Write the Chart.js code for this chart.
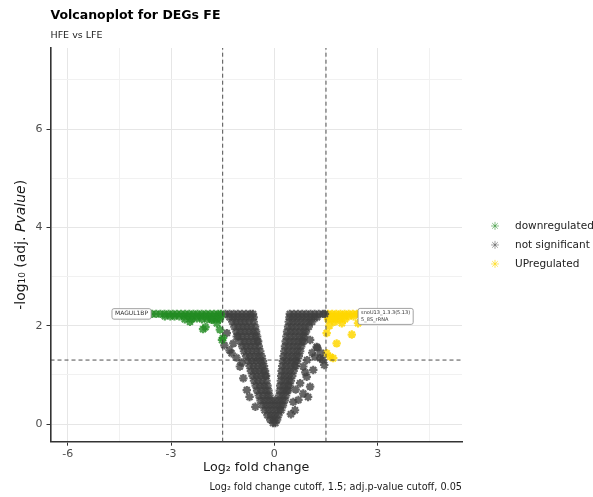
<!DOCTYPE html>
<html><head><meta charset="utf-8">
<script src="https://cdn.jsdelivr.net/npm/chart.js@4"></script>
<style>html,body{margin:0;padding:0;background:#fff}</style>
</head><body>
<canvas id="c" width="593" height="497"></canvas>
<script>
// ---------- text ----------
const chartTitle = 'Volcanoplot for DEGs FE';
const chartSubtitle = 'HFE vs LFE';
const xTitle = 'Log\u2082 fold change';
const yTitleParts = [['-log\u2081\u2080 (adj. ', 'normal'], ['Pvalue', 'italic'], [')', 'normal']];
const captionText = 'Log\u2082 fold change cutoff, 1.5; adj.p-value cutoff, 0.05';
const seriesNames = ['downregulated', 'not significant', 'UPregulated'];

// ---------- axes ----------
const xMin = -6.5, xMax = 5.45;
const yMin = -0.36, yMax = 7.65;
const xTickValues = [-6, -4.5, -3, -1.5, 0, 1.5, 3, 4.5];
const xTickLabels = ['-6', '', '-3', '', '0', '', '3', ''];
const yTickValues = [0, 1, 2, 3, 4, 5, 6, 7];
const yTickLabels = ['0', '', '2', '', '4', '', '6', ''];

// ---------- cutoffs ----------
const fcCutoff = 1.5;
const pCutoff = 0.05;

// ---------- data (rows: [-log10 adj.p, [log2FC values]]) ----------
const downRows = [
  [2.24, [-3.55,-3.43,-3.31,-3.19,-3.07,-2.95,-2.83,-2.71,-2.59,-2.47,-2.35,-2.23,-2.11,-1.99,-1.87,-1.75,-1.63,-1.55]],
  [2.19, [-3.18,-3.02,-2.90,-2.76,-2.62,-2.50,-2.38,-2.26,-2.14,-2.02,-1.90,-1.78,-1.66,-1.56]],
  [2.13, [-2.60,-2.40,-2.10,-1.95,-1.82,-1.68,-1.58]]
];
const downExtra = [[-2.45,2.08],[-2.25,2.15],[-2.07,1.93],[-1.67,2.05],[-1.82,2.12],[-1.49,1.75],[-2.0,1.97],[-1.52,1.71],[-1.58,1.92]];

const upRows = [
  [2.24, [1.56,1.68,1.80,1.92,2.04,2.16,2.28,2.40,2.48]],
  [2.19, [1.56,1.68,1.80,1.92,2.04,2.16,2.30]],
  [2.13, [1.56,1.66,1.78,1.90,2.05]]
];
const upExtra = [[1.96,2.05],[2.43,2.05],[2.25,1.82],[1.81,1.64],[1.52,1.85],[1.62,1.37],[1.52,1.44],[1.71,1.34],[1.60,2.00],[1.75,2.08]];

const nsRows = [
  [2.24, [-1.42,-1.30,-1.18,-1.06,-0.94,-0.82,-0.70,-0.62, 0.45,0.57,0.69,0.81,0.93,1.05,1.17,1.29,1.41,1.47]],
  [2.17, [-1.30,-1.18,-1.06,-0.94,-0.82,-0.70,-0.60, 0.44,0.56,0.68,0.80,0.92,1.04,1.16,1.24]],
  [2.08, [-1.22,-1.10,-0.98,-0.86,-0.74,-0.60, 0.42,0.54,0.66,0.78,0.90,1.02,1.10]],
  [1.98, [-1.16,-1.04,-0.92,-0.80,-0.68,-0.56, 0.40,0.52,0.64,0.76,0.88,1.00]],
  [1.88, [-1.10,-0.98,-0.86,-0.74,-0.62,-0.53, 0.37,0.49,0.61,0.73,0.85,0.92]],
  [1.78, [-1.04,-0.92,-0.80,-0.68,-0.56,-0.50, 0.35,0.47,0.59,0.71,0.82,0.88]],
  [1.68, [-0.98,-0.86,-0.74,-0.62,-0.50,-0.47, 0.33,0.45,0.57,0.69,0.80,0.85]],
  [1.58, [-0.93,-0.81,-0.69,-0.57,-0.45, 0.31,0.43,0.55,0.67,0.78]],
  [1.48, [-0.88,-0.76,-0.64,-0.52,-0.41, 0.29,0.41,0.53,0.65,0.75]],
  [1.38, [-0.82,-0.70,-0.58,-0.46,-0.37, 0.27,0.39,0.51,0.63,0.71]],
  [1.28, [-0.77,-0.65,-0.53,-0.41,-0.33, 0.25,0.37,0.49,0.61,0.66]],
  [1.18, [-0.72,-0.60,-0.48,-0.36,-0.30, 0.23,0.35,0.47,0.59,0.62]],
  [1.08, [-0.68,-0.56,-0.44,-0.32,-0.27, 0.21,0.33,0.45,0.56]],
  [0.98, [-0.63,-0.51,-0.39,-0.27,-0.24, 0.20,0.31,0.42,0.52]],
  [0.88, [-0.59,-0.47,-0.35,-0.23, 0.19,0.30,0.41,0.48]],
  [0.78, [-0.54,-0.42,-0.30,-0.20, 0.17,0.28,0.39,0.44]],
  [0.68, [-0.50,-0.38,-0.26,-0.17, 0.16,0.27,0.36,0.40]],
  [0.58, [-0.45,-0.33,-0.21,-0.14, 0.14,0.25,0.34]],
  [0.48, [-0.40,-0.29,-0.18,-0.08,0.02,0.12,0.22,0.30]],
  [0.38, [-0.34,-0.23,-0.12,-0.02,0.08,0.18,0.25]],
  [0.28, [-0.28,-0.17,-0.06,0.05,0.15,0.20]],
  [0.18, [-0.20,-0.09,0.02,0.12]],
  [0.09, [-0.12,-0.02,0.08]],
  [0.02, [-0.04,0.03]]
];
const nsExtra = [
  [1.04,1.71],[1.23,1.57],[1.18,1.37],[0.84,1.17],[1.13,1.10],[0.94,0.96],[0.75,0.83],[1.04,0.76],
  [0.84,0.62],[0.70,0.49],[0.60,0.28],[1.35,1.45],[1.40,1.30],[1.25,1.55],[1.45,1.20],[1.33,1.34],
  [0.95,1.30],[1.10,1.45],[0.90,1.05],[0.62,0.70],[0.55,0.45],[0.98,0.55],[0.48,0.20],
  [-0.90,0.93],[-1.00,1.17],[-1.24,1.44],[-1.19,1.64],[-1.09,1.78],[-0.80,0.69],[-1.45,1.60],
  [-1.38,1.85],[-1.30,1.50],[-0.95,1.25],[-1.10,1.35],[-0.72,0.55],[-0.55,0.35]
];

// ---------- labelled genes ----------
const labelGenes = [['MAGUL1BP'], ['snoU13_1.3.3(5.13)', '5_8S_rRNA']];
const labelFC = [-3.55, 2.49];
const labelP = [2.24, 2.24];
const labelSide = ['left', 'right'];

// ---------- colours ----------
const colDown = 'rgba(34,139,34,0.8)';
const colNS = 'rgba(64,64,64,0.8)';
const colUp = 'rgba(255,215,0,0.85)';
const legendCols = ['rgba(34,139,34,0.6)', 'rgba(64,64,64,0.55)', 'rgba(255,215,0,0.7)'];
const FONT = "'DejaVu Sans', sans-serif";

function toPoints(rows, extra) {
  const pts = [];
  rows.forEach(([y, xs]) => xs.forEach(x => pts.push({x, y})));
  extra.forEach(([x, y]) => pts.push({x, y}));
  return pts;
}
const pLine = -Math.log10(pCutoff);

function pointSet(label, data, col, order) {
  return { label, data, order, pointStyle: 'star', pointRadius: 4.2, pointHoverRadius: 4.2,
    borderColor: col, backgroundColor: col, pointBorderWidth: 2.2, borderWidth: 2.2 };
}
function cutLine(data) {
  return { label: '_cut', data, showLine: true, order: 0, pointRadius: 0, pointHoverRadius: 0,
    borderColor: '#3a3a3a', borderWidth: 0.9, borderDash: [4, 3], fill: false };
}
function legendStar(col) {
  const cv = document.createElement('canvas');
  cv.width = 12; cv.height = 12;
  const c = cv.getContext('2d');
  c.strokeStyle = col; c.lineWidth = 0.9; c.lineCap = 'butt';
  const r = 4, cx = 6, cy = 6;
  c.beginPath();
  for (let k = 0; k < 4; k++) {
    const a = k * Math.PI / 4;
    c.moveTo(cx - r * Math.cos(a), cy - r * Math.sin(a));
    c.lineTo(cx + r * Math.cos(a), cy + r * Math.sin(a));
  }
  c.stroke();
  return cv;
}

const gridColor = (labels) => (ctx) => (labels[ctx.index] !== '' ? '#e6e6e6' : '#f1f1f1');
const tickColor = (labels) => (ctx) => (labels[ctx.index] !== '' ? '#333' : 'rgba(0,0,0,0)');

const extraText = {
  id: 'extraText',
  afterDatasetsDraw(chart) {
    const ctx = chart.ctx, xs = chart.scales.x, ys = chart.scales.y;
    ctx.save();
    labelGenes.forEach((lines, i) => {
      const px = xs.getPixelForValue(labelFC[i]);
      const py = ys.getPixelForValue(labelP[i]);
      const fs = lines.length > 1 ? 5 : 6;
      ctx.font = fs + 'px ' + FONT;
      const w = Math.max(...lines.map(t => ctx.measureText(t).width)) + 6;
      const h = lines.length * (fs + 1.5) + 3;
      const left = labelSide[i] === 'left' ? px - w - 1 : px - 2;
      const top = py - (lines.length > 1 ? 5.5 : h / 2);
      ctx.beginPath();
      ctx.roundRect(left, top, w, h, 2);
      ctx.fillStyle = '#fff'; ctx.fill();
      ctx.strokeStyle = '#8a8a8a'; ctx.lineWidth = 0.8; ctx.stroke();
      ctx.fillStyle = '#333'; ctx.textAlign = 'left'; ctx.textBaseline = 'middle';
      lines.forEach((t, j) => ctx.fillText(t, left + 3, top + 1.5 + (fs + 1.5) * (j + 0.5)));
    });
    ctx.restore();
  },
  afterDraw(chart) {
    const ctx = chart.ctx, ca = chart.chartArea;
    ctx.save();
    ctx.translate(21, (ca.top + ca.bottom) / 2);
    ctx.rotate(-Math.PI / 2);
    ctx.fillStyle = '#1a1a1a'; ctx.textBaseline = 'middle';
    const fonts = yTitleParts.map(([t, s]) => (s === 'italic' ? 'italic ' : '') + '14px ' + FONT);
    const widths = yTitleParts.map(([t], i) => { ctx.font = fonts[i]; return ctx.measureText(t).width; });
    let x = -widths.reduce((a, b) => a + b, 0) / 2;
    yTitleParts.forEach(([t], i) => { ctx.font = fonts[i]; ctx.textAlign = 'left'; ctx.fillText(t, x, 0); x += widths[i]; });
    ctx.restore();
    ctx.save();
    ctx.font = '9.7px ' + FONT; ctx.fillStyle = '#1a1a1a';
    ctx.textAlign = 'right'; ctx.textBaseline = 'middle';
    ctx.fillText(captionText, ca.right, 487);
    ctx.restore();
  }
};

new Chart(document.getElementById('c'), {
  type: 'scatter',
  data: {
    datasets: [
      pointSet(seriesNames[0], toPoints(downRows, downExtra), colDown, 1),
      pointSet(seriesNames[1], toPoints(nsRows, nsExtra), colNS, 2),
      pointSet(seriesNames[2], toPoints(upRows, upExtra), colUp, 3),
      cutLine([{x: -fcCutoff, y: yMin}, {x: -fcCutoff, y: yMax}]),
      cutLine([{x: fcCutoff, y: yMin}, {x: fcCutoff, y: yMax}]),
      cutLine([{x: xMin, y: pLine}, {x: xMax, y: pLine}])
    ]
  },
  options: {
    responsive: false, animation: false, devicePixelRatio: 1,
    layout: { padding: 0 },
    plugins: {
      tooltip: { enabled: false },
      title: { display: true, text: chartTitle, align: 'start', fullSize: false, color: '#000',
        font: { family: FONT, size: 12.5, weight: 'bold' }, padding: { top: 8.7, bottom: 3 } },
      subtitle: { display: true, text: chartSubtitle, align: 'start', fullSize: false, color: '#222',
        font: { family: FONT, size: 9.5 }, padding: { top: 2.9, bottom: 7 } },
      legend: {
        display: true, position: 'right', align: 'center', fullSize: false, maxWidth: 121.25,
        labels: {
          usePointStyle: true, pointStyleWidth: 29.5, boxHeight: 5.7, padding: 8.5,
          color: '#222', font: { family: FONT, size: 10.5 },
          generateLabels: (chart) => Chart.defaults.plugins.legend.labels.generateLabels(chart)
            .filter(it => seriesNames.includes(it.text))
            .map(it => Object.assign(it, { pointStyle: legendStar(legendCols[seriesNames.indexOf(it.text)]) }))
        }
      }
    },
    scales: {
      x: {
        type: 'linear', position: 'bottom', min: xMin, max: xMax,
        afterBuildTicks: (s) => { s.ticks = xTickValues.map(v => ({ value: v })); },
        afterFit: (s) => { s.height = 55.3; },
        ticks: { callback: (v, i) => xTickLabels[i], color: '#4d4d4d', font: { family: FONT, size: 11 }, padding: 2, maxRotation: 0, autoSkip: false },
        grid: { color: gridColor(xTickLabels), lineWidth: 1, tickLength: 4, tickColor: tickColor(xTickLabels), tickWidth: 1 },
        border: { display: true, color: '#333', width: 1.6 },
        title: { display: true, text: xTitle, color: '#1a1a1a', font: { family: FONT, size: 12.7 }, padding: { top: 0, bottom: 21.5 } }
      },
      y: {
        type: 'linear', position: 'left', min: yMin, max: yMax,
        afterBuildTicks: (s) => { s.ticks = yTickValues.map(v => ({ value: v })); },
        afterFit: (s) => { s.width = 50.5; },
        ticks: { callback: (v, i) => yTickLabels[i], color: '#4d4d4d', font: { family: FONT, size: 11 }, padding: 4, autoSkip: false },
        grid: { color: gridColor(yTickLabels), lineWidth: 1, tickLength: 4, tickColor: tickColor(yTickLabels), tickWidth: 1 },
        border: { display: true, color: '#333', width: 1.6 }
      },
      gap: {
        type: 'linear', position: 'right', display: true,
        afterFit: (s) => { s.width = 9.75; },
        ticks: { display: false }, grid: { display: false, drawTicks: false }, border: { display: false }
      }
    }
  },
  plugins: [extraText]
});
</script>
</body></html>
